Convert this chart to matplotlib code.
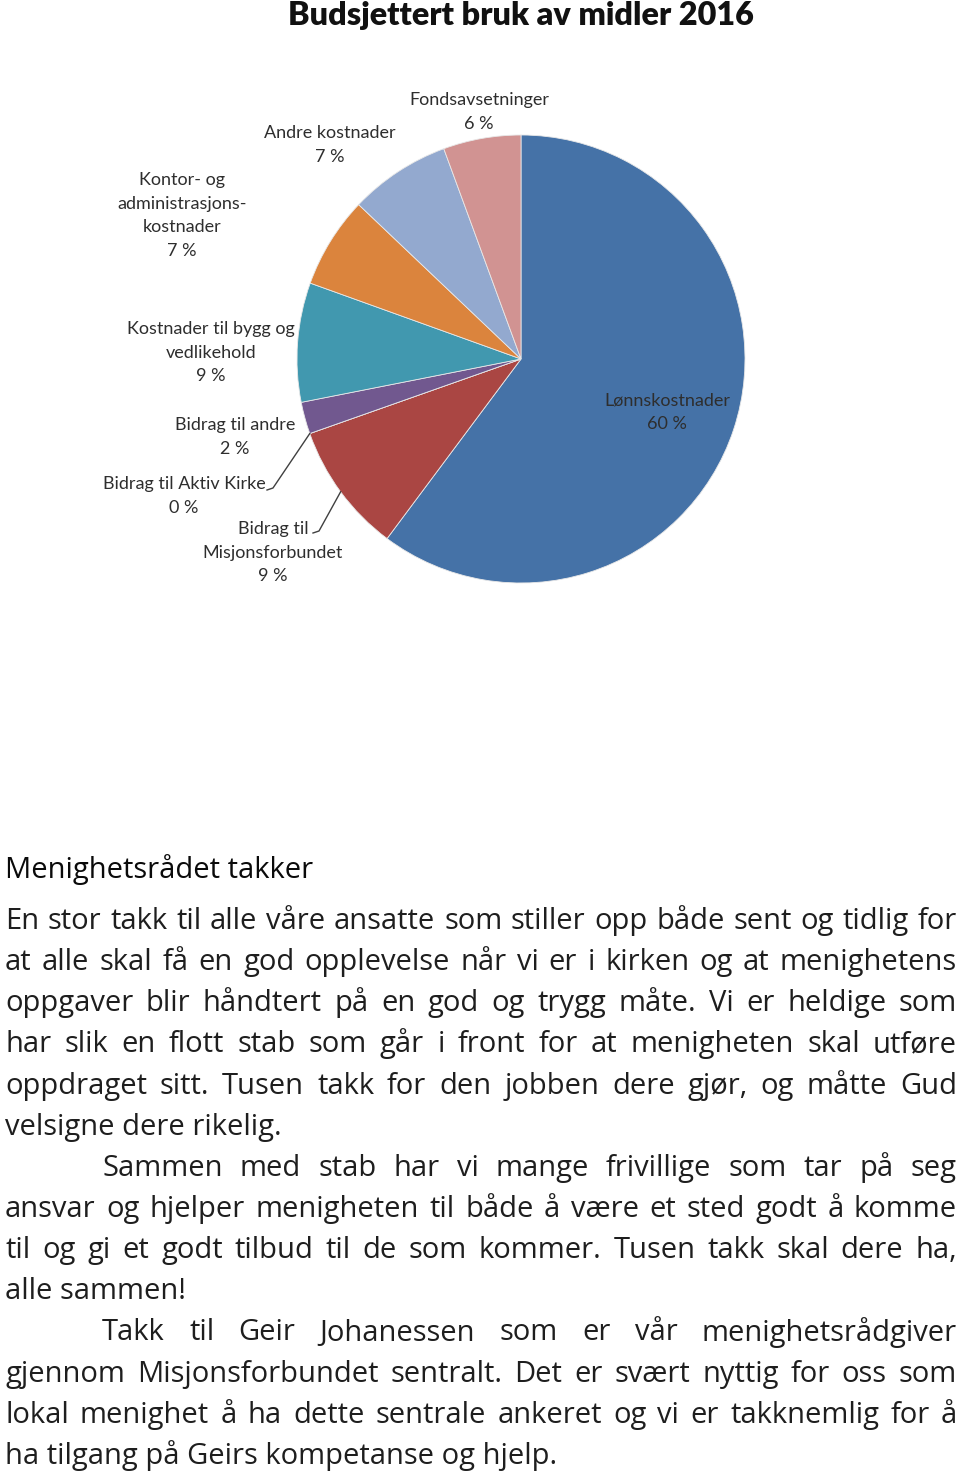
import numpy as np
import matplotlib.pyplot as plt

# pie data (share of budget, %)
categories = ["Lønnskostnader", "Bidrag til\nMisjonsforbundet", "Bidrag til Aktiv Kirke",
              "Bidrag til andre", "Kostnader til bygg og\nvedlikehold",
              "Kontor- og\nadministrasjons-\nkostnader", "Andre kostnader", "Fondsavsetninger"]
shares = [60.2, 9.4, 0.0, 2.3, 8.6, 6.6, 7.3, 5.6]
colors = ['#4572A7', '#AA4643', '#89A54E', '#71588F', '#4198AF', '#DB843D', '#93A9CF', '#D19392']

title = "Budsjettert bruk av midler 2016"
heading = "Menighetsrådet takker"
# (text, indent, justified)
body_lines = [
    ("En stor takk til alle våre ansatte som stiller opp både sent og tidlig for", False, True),
    ("at alle skal få en god opplevelse når vi er i kirken og at menighetens", False, True),
    ("oppgaver blir håndtert på en god og trygg måte. Vi er heldige som", False, True),
    ("har slik en flott stab som går i front for at menigheten skal utføre", False, True),
    ("oppdraget sitt. Tusen takk for den jobben dere gjør, og måtte Gud", False, True),
    ("velsigne dere rikelig.", False, False),
    ("Sammen med stab har vi mange frivillige som tar på seg", True, True),
    ("ansvar og hjelper menigheten til både å være et sted godt å komme", False, True),
    ("til og gi et godt tilbud til de som kommer. Tusen takk skal dere ha,", False, True),
    ("alle sammen!", False, False),
    ("Takk til Geir Johanessen som er vår menighetsrådgiver", True, True),
    ("gjennom Misjonsforbundet sentralt. Det er svært nyttig for oss som", False, True),
    ("lokal menighet å ha dette sentrale ankeret og vi er takknemlig for å", False, True),
    ("ha tilgang på Geirs kompetanse og hjelp.", False, False),
]

# label placement in figure pixels (centre x, first line y)
label_pos = [(667, 400), (273, 529), (184, 484), (235, 425), (211, 329),
             (182, 180), (330, 133), (479, 100)]
cx, cy, rad = 521, 359, 224

fig = plt.figure(figsize=(9.6, 14.72), dpi=100)
ax0 = fig.add_axes([0, 0, 1, 1], zorder=2)
ax0.set_xlim(0, 960)
ax0.set_ylim(1472, 0)
ax0.axis('off')

ax = fig.add_axes([(cx - rad) / 960, 1 - (cy + rad) / 1472, 2 * rad / 960, 2 * rad / 1472], zorder=1)
wedges, _ = ax.pie(shares, colors=colors, startangle=90, counterclock=False, radius=1,
                   wedgeprops=dict(edgecolor='#e8e8e8', linewidth=0.6))
ax.set_xlim(-1, 1)
ax.set_ylim(-1, 1)

lab_kw = dict(family='Lato', fontsize=13, color='#2e2e2e', ha='center', va='center')
for i, (cat, val) in enumerate(zip(categories, shares)):
    x, y = label_pos[i]
    lines = cat.split("\n") + [f"{val:.0f} %"]
    for j, s in enumerate(lines):
        ax0.text(x, y + j * 23.7, s, **lab_kw)

# leader lines for the two small labels
for i, tx, ty in [(2, 267, 490), (1, 313, 533)]:
    w = wedges[i]
    ang = np.deg2rad((w.theta1 + w.theta2) / 2)
    px, py = cx + rad * np.cos(ang), cy - rad * np.sin(ang)
    ax0.plot([tx, tx + 6, px], [ty, ty - 2, py], color='#404040', lw=1)

ax0.text(521, 15, title, family='Lato', fontweight='heavy', fontsize=23.3, color='#111111',
         ha='center', va='center')

# text block
body_kw = dict(family='Open Sans', fontsize=21, color='#1e1e1e', va='baseline')
ax0.text(5, 878, heading, family='Open Sans', fontsize=21, color='#0a0a0a', va='baseline')

r = fig.canvas.get_renderer()
x_left, x_right, indent = 5, 957, 102
for k, (line, ind, just) in enumerate(body_lines):
    y = 929 + k * 41.15
    x0 = x_left + (indent - x_left if ind else 0)
    if not just:
        ax0.text(x0, y, line, **body_kw)
        continue
    words = line.split()
    texts = [ax0.text(0, y, w, **body_kw) for w in words]
    widths = [t.get_window_extent(r).width for t in texts]
    gap = (x_right - x0 - sum(widths)) / (len(words) - 1)
    x = x0
    for t, wd in zip(texts, widths):
        t.set_x(x)
        x += wd + gap

fig.savefig('out.png', dpi=100)
